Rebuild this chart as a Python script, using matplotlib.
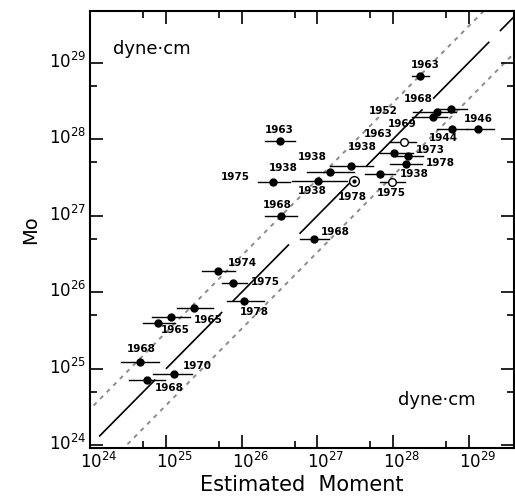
import numpy as np
import matplotlib.pyplot as plt
from matplotlib.ticker import LogLocator, FixedLocator, NullFormatter
import matplotlib.transforms as mtransforms

plt.rcParams['font.family'] = ['DejaVu Sans']
plt.rcParams['mathtext.default'] = 'regular'

# log10 of estimated moment (x), observed Mo (y), error-bar ends (x), year label, marker kind
log_x = [28.36, 28.77, 28.58, 28.53, 28.78, 29.13, 26.51, 28.14, 28.01, 28.20,
         28.17, 27.83, 27.99, 27.49, 27.44, 27.17, 27.01, 26.42, 26.52, 26.96,
         25.69, 25.89, 26.03, 25.37, 25.07, 24.89, 24.65, 25.10, 24.75]
log_y = [28.83, 28.40, 28.35, 28.29, 28.13, 28.13, 27.98, 27.96, 27.82, 27.78,
         27.68, 27.55, 27.44, 27.45, 27.65, 27.57, 27.46, 27.44, 26.99, 26.69,
         26.28, 26.12, 25.88, 25.80, 25.68, 25.60, 25.09, 24.93, 24.85]
log_lo = [28.25, 28.60, 28.27, 28.25, 28.58, 28.98, 26.31, 27.96, 27.83, 28.01,
          27.96, 27.63, 27.83, None, 27.17, 26.86, 26.66, 26.22, 26.31, 26.77,
          25.48, 25.74, 25.80, 25.15, 24.82, 24.69, 24.41, 24.83, 24.51]
log_hi = [28.47, 28.98, 28.84, 28.71, 28.98, 29.33, 26.71, 28.31, 28.27, 28.40,
          28.38, 28.03, 28.16, None, 27.74, 27.48, 27.39, 26.64, 26.73, 27.15,
          25.91, 26.07, 26.29, 25.62, 25.32, 25.12, 24.90, 25.34, 24.99]
years = ['1963', '1969', '1968', '1952', '1944', '1946', '1963', '1963', '1938', '1973',
         '1978', '1938', '1975', '1978', '1938', '1938', '1938', '1975', '1968', '1968',
         '1974', '1975', '1978', '1965', '', '1965', '1968', '1970', '1968']
kinds = ['f', 'f', 'f', 'f', 'f', 'f', 'f', 'o', 'f', 'f',
         'f', 'f', 'o', 't', 'f', 'f', 'f', 'f', 'f', 'f',
         'f', 'f', 'f', 'f', 'f', 'f', 'f', 'f', 'f']

# label offsets from their point, in pixels
label_off = [(5, 11), (-49, -15), (-19, 13), (-50, 6), (-9, -9), (0, 10), (-1, 11),
             (-25, 8), (-31, 6), (22, 6), (34, 1), (34, 0), (-1, -11), (-2, -16),
             (-38, 9), (-47, 4), (-6, -10), (-38, 5), (-4, 11), (21, 7),
             (24, 8), (32, 1), (10, -11), (14, -12), (0, 0), (17, -7), (2, 13),
             (24, 8), (22, -8)]

# reference lines Mo = k * estimated
ratios = [1.0, 3.0, 1 / 3.0]

px = 1 / 100
fig = plt.figure(figsize=(515 * px, 503 * px), dpi=100)
ax = fig.add_axes([0.1757, 0.1093, 0.8223, 0.8688])
ax.set_xscale('log')
ax.set_yscale('log')
ax.set_xlim(1e24, 10 ** 29.60)
ax.set_ylim(10 ** 23.963, 10 ** 29.676)

xl = np.array([1e23, 1e31])
ax.plot(xl, ratios[0] * xl, color='black', lw=1.2, dashes=(48, 9), zorder=1)
for r in ratios[1:]:
    ax.plot(xl, r * xl, color='#8c8c8c', lw=1.4, dashes=(2.2, 2.6), zorder=1)

x = 10 ** np.array(log_x)
y = 10 ** np.array(log_y)
for i in range(len(x)):
    if log_lo[i] is not None:
        ax.plot([10 ** log_lo[i], 10 ** log_hi[i]], [y[i], y[i]], color='black', lw=1.0, zorder=2)
    if kinds[i] == 'f':
        ax.plot(x[i], y[i], 'o', ms=5, color='black', zorder=3)
    elif kinds[i] == 'o':
        ax.plot(x[i], y[i], 'o', ms=5.5, mfc='white', mec='black', mew=1.0, zorder=3)
    else:
        ax.plot(x[i], y[i], 'o', ms=7, mfc='white', mec='black', mew=1.0, zorder=3)
        ax.plot(x[i], y[i], 'o', ms=2, color='black', zorder=4)
    if years[i]:
        ax.annotate(years[i], (x[i], y[i]), xytext=label_off[i], textcoords='offset pixels',
                    ha='center', va='center', fontsize=7.5, fontweight='bold')

ax.text(0.145, 0.913, 'dyne\u00b7cm', transform=ax.transAxes, ha='center', va='center', fontsize=13)
ax.text(0.817, 0.110, 'dyne\u00b7cm', transform=ax.transAxes, ha='center', va='center', fontsize=13)

decades = [24, 25, 26, 27, 28, 29]
ax.xaxis.set_major_locator(FixedLocator([10.0 ** d for d in decades]))
ax.yaxis.set_major_locator(FixedLocator([10.0 ** d for d in decades]))
ax.xaxis.set_minor_locator(LogLocator(base=10, subs=[5]))
ax.yaxis.set_minor_locator(LogLocator(base=10, subs=[5]))
ax.xaxis.set_minor_formatter(NullFormatter())
ax.yaxis.set_minor_formatter(NullFormatter())
ax.set_xticklabels(['$10^{%d}$' % d for d in decades])
ax.set_yticklabels(['$10^{%d}$' % d for d in decades])

ax.tick_params(which='both', direction='in', top=True, right=True, width=1.2, labelsize=12)
ax.tick_params(which='major', length=9.5, pad=3)
ax.tick_params(which='minor', length=5)
for s in ax.spines.values():
    s.set_linewidth(1.5)

shift = mtransforms.ScaledTranslation(-10 / 100, 0, fig.dpi_scale_trans)
for lab in ax.get_xticklabels():
    lab.set_horizontalalignment('left')
    lab.set_transform(lab.get_transform() + shift)
yshift = mtransforms.ScaledTranslation(0, 3 / 100, fig.dpi_scale_trans)
for lab in ax.get_yticklabels():
    lab.set_transform(lab.get_transform() + yshift)

ax.set_xlabel('Estimated  Moment', fontsize=15, labelpad=2)
ax.set_ylabel('Mo', fontsize=14, labelpad=6)

fig.savefig('out.png', dpi=100)
